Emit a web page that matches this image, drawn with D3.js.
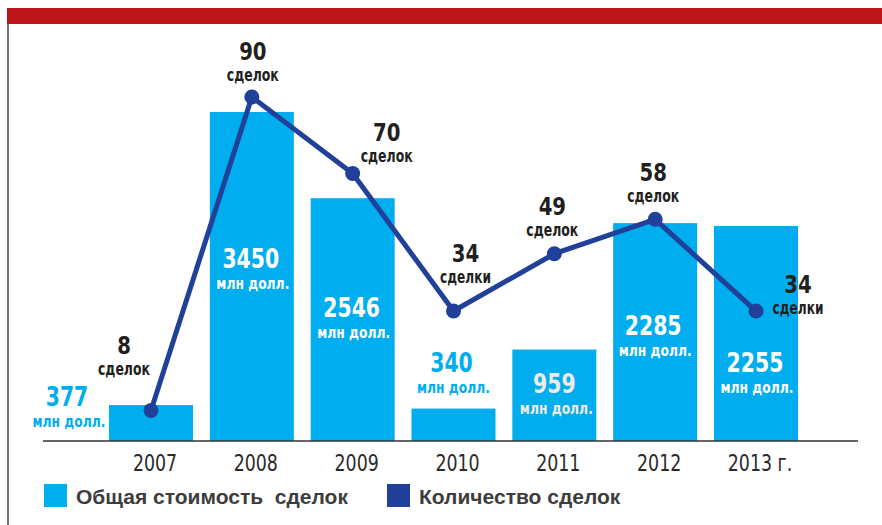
<!DOCTYPE html>
<html>
<head>
<meta charset="utf-8">
<script src="https://cdn.jsdelivr.net/npm/d3@7"></script>
<style>
    body { margin: 0; background: #fff; }
    svg { display: block; }
    .narrow { font-family: "Liberation Sans Narrow", "DejaVu Sans Condensed", sans-serif; }
</style>
</head>
<body>
<div id="chart"></div>
<script>
// data
const years = ["2007", "2008", "2009", "2010", "2011", "2012", "2013 г."];
const totalValue = [377, 3450, 2546, 340, 959, 2285, 2255];       // млн долл.
const dealCount = [8, 90, 70, 34, 49, 58, 34];
const dealWord = ["сделок", "сделок", "сделок", "сделки", "сделок", "сделок", "сделки"];
const valueUnit = "млн долл.";
const legendLabels = ["Общая стоимость  сделок", "Количество сделок"];

const barColor = "#00aeef";
const lineColor = "#21409a";
const textColor = "#231f20";

// label placement: [dx, dy] from bar top-centre / from the dot
const valueOffset = [[-84, 1], [-1, 156], [-1, 119], [-2, -37], [0, 43], [-2, 112], [-1, 146]];
const valueInside = [false, true, true, false, true, true, true];
const countOffset = [[-27, -56], [1, -37], [34, -32], [12, -49], [-2, -39], [-2, -38], [42, -18]];

// the print font is a tight condensed face, so squeeze the fallback to the printed widths
const wordWidth = {"сделок": 52, "сделки": 51, "млн долл.": 73};

function squeeze(sel, widthFn) {
    sel.each(function (d) {
        let w = widthFn(this.textContent, this.getComputedTextLength());
        this.setAttribute("textLength", w);
        this.setAttribute("lengthAdjust", "spacingAndGlyphs");
    });
}

const W = 882, H = 525;
const baseY = 441;

const svg = d3.select("#chart").append("svg")
    .attr("width", W)
    .attr("height", H);

// red band and left rule
svg.append("rect")
    .attr("x", 7).attr("y", 8)
    .attr("width", W - 7).attr("height", 16)
    .attr("fill", "#bb141b");
svg.append("line")
    .attr("x1", 8).attr("x2", 8)
    .attr("y1", 24).attr("y2", H)
    .attr("stroke", "#444").attr("stroke-width", 1.5);

// scales
const x = d3.scaleBand()
    .domain(years)
    .range([109, 798])
    .paddingInner(0.167)
    .paddingOuter(0);

const yValue = d3.scaleLinear()
    .domain([0, 3450])
    .range([baseY, 112]);

const yCount = d3.scaleLinear()
    .domain([0, 90])
    .range([baseY, 97]);

const cx = d => x(d) + x.bandwidth() / 2;

// bars
svg.append("g")
    .selectAll("rect")
    .data(years)
    .enter()
    .append("rect")
    .attr("x", d => x(d))
    .attr("y", (d, i) => yValue(totalValue[i]))
    .attr("width", x.bandwidth())
    .attr("height", (d, i) => baseY - yValue(totalValue[i]))
    .attr("fill", barColor);

// baseline
svg.append("line")
    .attr("x1", 43).attr("x2", 858)
    .attr("y1", baseY).attr("y2", baseY)
    .attr("stroke", "#333").attr("stroke-width", 1.5);

// year labels
svg.append("g")
    .selectAll("text")
    .data(years)
    .enter()
    .append("text")
    .attr("class", "narrow")
    .attr("x", d => cx(d) + 4)
    .attr("y", 471)
    .attr("text-anchor", "middle")
    .attr("font-size", 23)
    .attr("fill", "#2a2a2a")
    .text(d => d)
    .call(squeeze, (t, w) => w * 0.84);

// value labels
const valueG = svg.append("g").attr("class", "narrow").attr("text-anchor", "middle").attr("font-weight", "bold");
years.forEach(function (d, i) {
    let tx = cx(d) + valueOffset[i][0];
    let ty = yValue(totalValue[i]) + valueOffset[i][1];
    let col = valueInside[i] ? (i === 4 ? "#f0eae5" : "#ffffff") : barColor;
    valueG.append("text")
        .attr("x", tx).attr("y", ty)
        .attr("font-size", 26)
        .attr("fill", col)
        .text(totalValue[i])
        .call(squeeze, t => t.length * 14.2);
    valueG.append("text")
        .attr("x", tx + 2).attr("y", ty + 21)
        .attr("font-size", 15.5)
        .attr("fill", col)
        .text(valueUnit)
        .call(squeeze, t => wordWidth[t]);
});

// line of deal counts
const line = d3.line()
    .x((d, i) => cx(years[i]))
    .y(d => yCount(d));

svg.append("path")
    .datum(dealCount)
    .attr("d", line)
    .attr("fill", "none")
    .attr("stroke", lineColor)
    .attr("stroke-width", 5)
    .attr("stroke-linejoin", "round");

svg.append("g")
    .selectAll("circle")
    .data(dealCount)
    .enter()
    .append("circle")
    .attr("cx", (d, i) => cx(years[i]))
    .attr("cy", d => yCount(d))
    .attr("r", 7.5)
    .attr("fill", lineColor);

// count labels
const countG = svg.append("g").attr("class", "narrow").attr("text-anchor", "middle")
    .attr("font-weight", "bold").attr("fill", textColor);
dealCount.forEach(function (d, i) {
    let tx = cx(years[i]) + countOffset[i][0];
    let ty = yCount(d) + countOffset[i][1];
    countG.append("text")
        .attr("x", tx).attr("y", ty)
        .attr("font-size", 25.5)
        .text(d)
        .call(squeeze, t => t.length * 13.7);
    countG.append("text")
        .attr("x", tx).attr("y", ty + 21)
        .attr("font-size", 18)
        .text(dealWord[i])
        .call(squeeze, t => wordWidth[t]);
});

// legend
const legend = svg.append("g");
const legendX = [44, 387];
const legendColors = [barColor, lineColor];
legendLabels.forEach(function (lab, i) {
    legend.append("rect")
        .attr("x", legendX[i]).attr("y", 484)
        .attr("width", 23).attr("height", 23)
        .attr("fill", legendColors[i]);
    legend.append("text")
        .attr("x", legendX[i] + 32).attr("y", 504)
        .attr("font-family", "'Liberation Sans', Arial, sans-serif")
        .attr("font-size", 21)
        .attr("font-weight", "bold")
        .attr("fill", "#3d3d3d")
        .style("white-space", "pre")
        .text(lab);
});
</script>
</body>
</html>
